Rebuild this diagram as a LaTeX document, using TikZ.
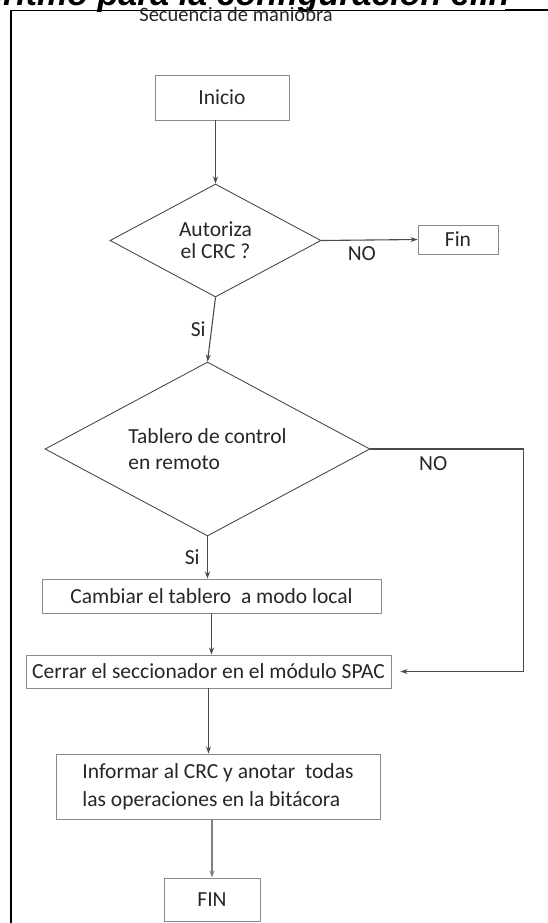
\documentclass[tikz,border=0pt]{standalone}
\usepackage{fontspec}
\setmainfont{Carlito}
\newfontfamily\titlefont{Liberation Sans}
\usetikzlibrary{shapes.geometric, arrows.meta, positioning}

\definecolor{boxgray}{HTML}{8A8A8A}
\definecolor{linegray}{HTML}{4A4A4A}

\begin{document}
\begin{tikzpicture}[
    x=1pt, y=-1pt,
    >={Stealth[length=7pt, width=5pt]},
    every node/.style={font=\fontsize{21.5}{25}\selectfont, text=black!85},
    box/.style={draw=boxgray, line width=0.9pt, inner sep=0pt},
    decision/.style={diamond, aspect=1.8, draw=linegray, line width=0.9pt, inner sep=0pt},
    flow/.style={->, draw=linegray, line width=1.1pt}
]
\useasboundingbox (0,0) rectangle (548,923);
\clip (0,0) rectangle (548,923);

% Title, cut by the top edge
\node[anchor=base east, font=\titlefont\fontsize{34}{38}\selectfont\bfseries\itshape, text=black] (title) at (513,6) {Algoritmo para la configuración el.n};

% Frame
\draw[line width=2.5pt] (11,10) -- (11,923);
\draw[line width=0.8pt] (10,10) -- (548,10);
\draw[line width=1.6pt] (505,9.5) -- (548,9.5);

\node[anchor=base, font=\fontsize{20.5}{24}\selectfont] (heading) at (236,22) {Secuencia de maniobra};

% Steps
\node[box, minimum width=134, minimum height=45] (inicio) at (222,97.5) {Inicio};
\node[decision, minimum width=211, minimum height=113, align=center, font=\fontsize{21.5}{22}\selectfont] (crc) at (215.5,240.5) {Autoriza\\el CRC ?};
\node[box, minimum width=80, minimum height=29] (fin) at (458,239.5) {Fin};
\node[decision, minimum width=325, minimum height=174, align=left, font=\fontsize{21.5}{26}\selectfont] (remoto) at (207.5,449) {Tablero de control\\en remoto};
\node[box, minimum width=339, minimum height=34] (local) at (211.5,596) {Cambiar el tablero \ a modo local};
\node[box, minimum width=365, minimum height=33] (spac) at (208.5,671.5) {Cerrar el seccionador en el módulo SPAC};
\node[box, minimum width=324, minimum height=65, align=left, font=\fontsize{21.5}{28}\selectfont] (bitacora) at (218,786.5) {Informar al CRC y anotar \ todas\\las operaciones en la bitácora};
\node[box, minimum width=96, minimum height=43] (finfin) at (212,899.5) {FIN};

% Arrows
\draw[flow] (crc.north |- inicio.south) -- (crc.north);
\draw[flow] (crc.east) -- (fin.west) node[pos=0.42, below=3pt] {NO};
\draw[flow] (crc.south) -- (remoto.north) node[midway, left=2pt] {Si};
\draw[flow, shorten >=9pt] (remoto.east) -- node[pos=0.41, below=4pt] {NO} ++(153,0) |- (spac.east);
\draw[flow] (remoto.south) -- (remoto.south |- local.north) node[midway, left=4pt] {Si};
\draw[flow] (local.south) -- (local.south |- spac.north);
\draw[flow] (spac.south) -- (spac.south |- bitacora.north);
\draw[flow, draw=gray, line width=2pt] (finfin.north |- bitacora.south) -- (finfin.north);

\end{tikzpicture}
\end{document}
